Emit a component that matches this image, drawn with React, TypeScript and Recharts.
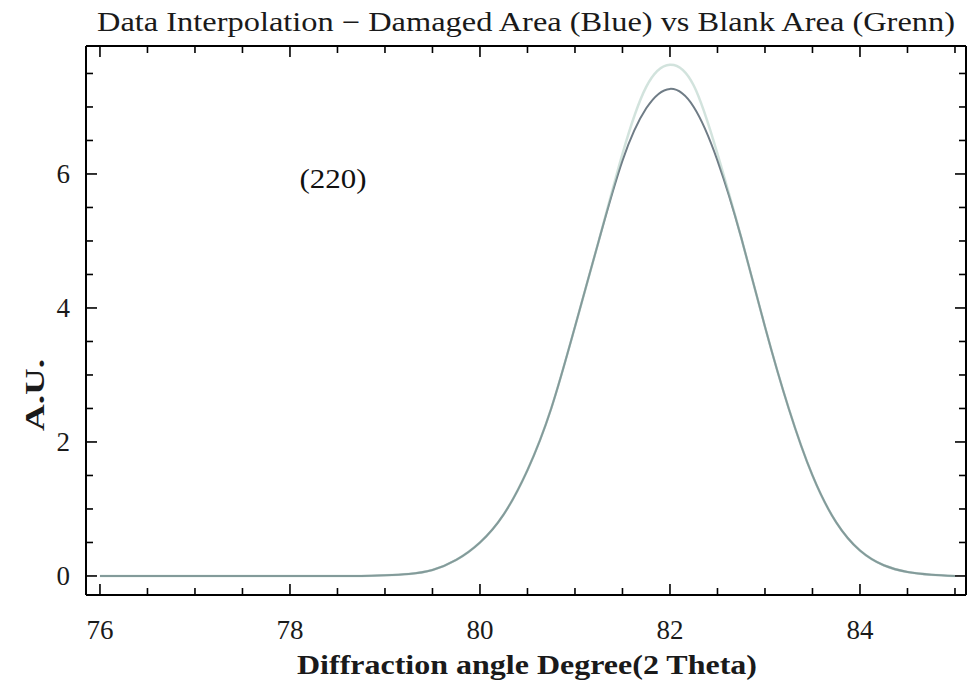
import { LineChart, Line, XAxis, YAxis } from "recharts";

const angles = [
  76, 76.25, 76.5, 76.75, 77, 77.25, 77.5, 77.75, 78, 78.25, 78.5, 78.75, 79, 79.25,
  79.5, 79.75, 80, 80.25, 80.5, 80.75, 81, 81.25, 81.5, 81.75, 82, 82.25, 82.5, 82.75,
  83, 83.25, 83.5, 83.75, 84, 84.25, 84.5, 84.75, 85,
];
// damaged area (blue)
const damaged = [
  0, 0, 0, 0, 0, 0, 0, 0, 0, 0, 0, 0, 0.01, 0.03,
  0.09, 0.24, 0.5, 0.92, 1.58, 2.5, 3.72, 5.0, 6.2, 6.98, 7.27, 7.0, 6.2, 5.05,
  3.72, 2.5, 1.5, 0.8, 0.38, 0.16, 0.06, 0.02, 0,
];
// blank area (green)
const blank = [
  0, 0, 0, 0, 0, 0, 0, 0, 0, 0, 0, 0, 0.01, 0.03,
  0.09, 0.24, 0.5, 0.92, 1.58, 2.5, 3.72, 5.0, 6.3, 7.3, 7.63, 7.32, 6.3, 5.05,
  3.72, 2.5, 1.5, 0.8, 0.38, 0.16, 0.06, 0.02, 0,
];

const xTicks = [76, 76.5, 77, 77.5, 78, 78.5, 79, 79.5, 80, 80.5, 81, 81.5, 82, 82.5, 83, 83.5, 84, 84.5, 85];
const yTicks = [0, 0.5, 1, 1.5, 2, 2.5, 3, 3.5, 4, 4.5, 5, 5.5, 6, 6.5, 7, 7.5];
const xLabels = [76, 78, 80, 82, 84];
const yLabels = [0, 2, 4, 6];

const data = angles.map((a, i) => ({ angle: a, damaged: damaged[i], blank: blank[i] }));

const font = "'Liberation Serif', 'Times New Roman', serif";
const MAJOR = 11;
const MINOR = 7;

const BottomTick = (props: any) => {
  const { x, y, payload } = props;
  const major = xLabels.includes(payload.value);
  return (
    <g>
      <line x1={x} x2={x} y1={y} y2={y - (major ? MAJOR : MINOR)} stroke="#000" strokeWidth={1.6} />
      {major && (
        <text x={x} y={y + 44} textAnchor="middle" fontFamily={font} fontSize={27} fill="#1a1a1a">
          {payload.value}
        </text>
      )}
    </g>
  );
};

const TopTick = (props: any) => {
  const { x, y, payload } = props;
  const major = xLabels.includes(payload.value);
  return <line x1={x} x2={x} y1={y} y2={y + (major ? MAJOR : MINOR)} stroke="#000" strokeWidth={1.6} />;
};

const LeftTick = (props: any) => {
  const { x, y, payload } = props;
  const major = yLabels.includes(payload.value);
  return (
    <g>
      <line x1={x} x2={x + (major ? MAJOR : MINOR)} y1={y} y2={y} stroke="#000" strokeWidth={1.6} />
      {major && (
        <text x={x - 16} y={y + 9} textAnchor="end" fontFamily={font} fontSize={27} fill="#1a1a1a">
          {payload.value}
        </text>
      )}
    </g>
  );
};

const RightTick = (props: any) => {
  const { x, y, payload } = props;
  const major = yLabels.includes(payload.value);
  return <line x1={x} x2={x - (major ? MAJOR : MINOR)} y1={y} y2={y} stroke="#000" strokeWidth={1.6} />;
};

export default function App() {
  return (
    <div style={{ position: "absolute", left: 0, top: 0, width: 971, height: 681, background: "#fff" }}>
      <LineChart width={971} height={681} data={data} margin={{ top: 36, right: 0, bottom: 0, left: 0 }}>
        <XAxis
          xAxisId="bottom"
          dataKey="angle"
          type="number"
          domain={[75.853, 85.116]}
          allowDataOverflow
          ticks={xTicks}
          interval={0}
          height={86}
          tickSize={0}
          tickMargin={0}
          tickLine={false}
          tick={<BottomTick />}
          axisLine={{ stroke: "#000", strokeWidth: 2 }}
        />
        <XAxis
          xAxisId="top"
          orientation="top"
          dataKey="angle"
          type="number"
          domain={[75.853, 85.116]}
          allowDataOverflow
          ticks={xTicks}
          interval={0}
          height={10}
          tickSize={0}
          tickMargin={0}
          tickLine={false}
          tick={<TopTick />}
          axisLine={{ stroke: "#000", strokeWidth: 2 }}
        />
        <YAxis
          yAxisId="left"
          type="number"
          domain={[-0.284, 7.91]}
          allowDataOverflow
          ticks={yTicks}
          interval={0}
          width={86}
          tickSize={0}
          tickMargin={0}
          tickLine={false}
          tick={<LeftTick />}
          axisLine={{ stroke: "#000", strokeWidth: 2 }}
        />
        <YAxis
          yAxisId="right"
          orientation="right"
          type="number"
          domain={[-0.284, 7.91]}
          allowDataOverflow
          ticks={yTicks}
          interval={0}
          width={5}
          tickSize={0}
          tickMargin={0}
          tickLine={false}
          tick={<RightTick />}
          axisLine={{ stroke: "#000", strokeWidth: 2 }}
        />
        <Line
          xAxisId="bottom"
          yAxisId="left"
          type="natural"
          dataKey="damaged"
          stroke="#6f7c86"
          strokeWidth={2}
          dot={false}
          isAnimationActive={false}
        />
        <Line
          xAxisId="bottom"
          yAxisId="left"
          type="natural"
          dataKey="blank"
          stroke="#9cc2b3"
          strokeOpacity={0.45}
          strokeWidth={2.5}
          dot={false}
          isAnimationActive={false}
        />
      </LineChart>
      <svg
        width={971}
        height={681}
        style={{ position: "absolute", left: 0, top: 0, pointerEvents: "none" }}
      >
        <text
          x={526}
          y={31}
          textAnchor="middle"
          fontFamily={font}
          fontSize={27}
          fill="#1a1a1a"
          textLength={858}
          lengthAdjust="spacingAndGlyphs"
        >
          Data Interpolation − Damaged Area (Blue) vs Blank Area (Grenn)
        </text>
        <text
          x={527}
          y={674}
          textAnchor="middle"
          fontFamily={font}
          fontSize={27}
          fontWeight="bold"
          fill="#1a1a1a"
          textLength={460}
          lengthAdjust="spacingAndGlyphs"
        >
          Diffraction angle Degree(2 Theta)
        </text>
        <text
          transform="translate(44,395) rotate(-90)"
          textAnchor="middle"
          fontFamily={font}
          fontSize={27}
          fontWeight="bold"
          fill="#1a1a1a"
          textLength={72}
          lengthAdjust="spacingAndGlyphs"
        >
          A.U.
        </text>
        <text
          x={333}
          y={188}
          textAnchor="middle"
          fontFamily={font}
          fontSize={27}
          fill="#111"
          textLength={67}
          lengthAdjust="spacingAndGlyphs"
        >
          (220)
        </text>
      </svg>
    </div>
  );
}
